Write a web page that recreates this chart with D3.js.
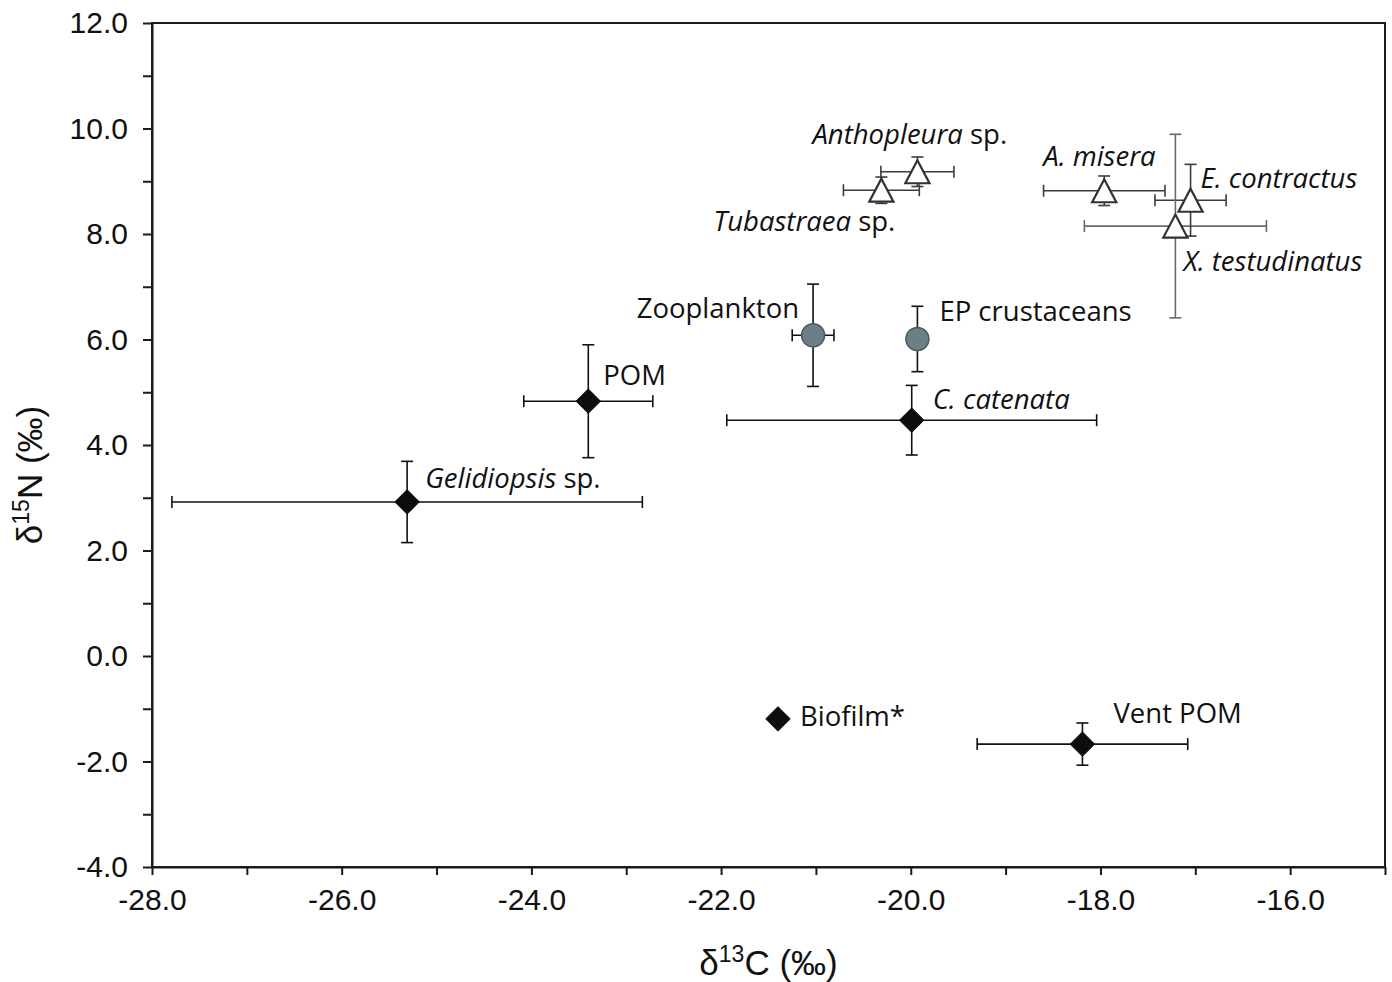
<!DOCTYPE html>
<html>
<head>
<meta charset="utf-8">
<script src="https://cdn.jsdelivr.net/npm/d3@7"></script>
<style>
  body { margin: 0; background: #fff; }
  svg { display: block; }
</style>
</head>
<body>
<svg id="chart" width="1392" height="982"></svg>
<script>
// isotope values (mean +/- sd)
const taxa = ["Gelidiopsis sp.", "POM", "Zooplankton", "EP crustaceans", "C. catenata", "Biofilm*", "Vent POM",
  "Tubastraea sp.", "Anthopleura sp.", "A. misera", "E. contractus", "X. testudinatus"];
const italicPart = ["Gelidiopsis", "", "", "", "C. catenata", "", "",
  "Tubastraea", "Anthopleura", "A. misera", "E. contractus", "X. testudinatus"];
const plainPart = [" sp.", "POM", "Zooplankton", "EP crustaceans", "", "Biofilm*", "Vent POM",
  " sp.", " sp.", "", "", ""];
const groups = ["source", "source", "plankton", "plankton", "source", "source", "source",
  "consumer", "consumer", "consumer", "consumer", "consumer"];
const d13C = [-25.31, -23.40, -21.03, -19.93, -19.99, -21.40, -18.19, -20.31, -19.93, -17.96, -17.05, -17.21];
const d15N = [2.92, 4.83, 6.08, 6.01, 4.47, -1.19, -1.67, 8.83, 9.18, 8.82, 8.64, 8.15];
const sdC = [2.48, 0.68, 0.22, 0, 1.95, 0, 1.11, 0.40, 0.385, 0.64, 0.375, 0.96];
const sdN = [0.77, 1.07, 0.97, 0.62, 0.66, 0, 0.40, 0.25, 0.28, 0.28, 0.68, 1.74];

const xTicks = d3.range(-28, -14, 1);
const yTicks = d3.range(-4, 13, 1);

// label placement, pixels from the point
const labelPos = {
  "Gelidiopsis sp.": [18, -24, "start"],
  "POM": [15, -26, "start"],
  "Zooplankton": [-14, -27, "end"],
  "EP crustaceans": [22, -28, "start"],
  "C. catenata": [21, -21, "start"],
  "Biofilm*": [22, -2, "start"],
  "Vent POM": [31, -31, "start"],
  "Tubastraea sp.": [14, 31, "end"],
  "Anthopleura sp.": [-105, -37, "start"],
  "A. misera": [-61, -34, "start"],
  "E. contractus": [10, -22, "start"],
  "X. testudinatus": [8, 35, "start"]
};

const width = 1392, height = 982;
const margin = { top: 23, right: 7, bottom: 115, left: 152 };
const svg = d3.select("#chart");

const x = d3.scaleLinear([-28, -15], [margin.left, width - margin.right]);
const y = d3.scaleLinear([-4, 12], [height - margin.bottom, margin.top]);

const data = taxa.map((t, i) => ({ t, i, x: d13C[i], y: d15N[i], sx: sdC[i], sy: sdN[i], g: groups[i] }));

// frame
svg.append("rect")
  .attr("x", x(-28)).attr("y", y(12))
  .attr("width", x(-15) - x(-28)).attr("height", y(-4) - y(12))
  .attr("fill", "none").attr("stroke", "#1a1a1a").attr("stroke-width", 2);

const fmt = d => d % 2 === 0 ? d3.format(".1f")(d).replace("−", "-") : "";

svg.append("g")
  .attr("transform", `translate(0,${y(-4)})`)
  .call(d3.axisBottom(x).tickValues(xTicks).tickSize(8).tickSizeOuter(0).tickFormat(fmt))
  .call(g => g.select(".domain").attr("stroke-width", 2).attr("stroke", "#1a1a1a"))
  .call(g => g.selectAll(".tick line").attr("stroke-width", 2).attr("stroke", "#1a1a1a"))
  .call(g => g.selectAll(".tick text")
    .attr("font-family", "Liberation Sans, Arial, sans-serif")
    .attr("font-size", 30).attr("fill", "#111").attr("dy", "1.05em"));

svg.append("g")
  .attr("transform", `translate(${x(-28)},0)`)
  .call(d3.axisLeft(y).tickValues(yTicks).tickSize(9).tickSizeOuter(0).tickFormat(fmt))
  .call(g => g.select(".domain").attr("stroke-width", 2).attr("stroke", "#1a1a1a"))
  .call(g => g.selectAll(".tick line").attr("stroke-width", 2).attr("stroke", "#1a1a1a"))
  .call(g => g.selectAll(".tick text")
    .attr("font-family", "Liberation Sans, Arial, sans-serif")
    .attr("font-size", 30).attr("fill", "#111").attr("x", -24));

// axis titles
const xt = svg.append("text")
  .attr("x", (x(-28) + x(-15)) / 2).attr("y", 975)
  .attr("text-anchor", "middle")
  .attr("font-family", "Liberation Sans, Arial, sans-serif")
  .attr("font-size", 35).attr("fill", "#111");
xt.append("tspan").text("δ");
xt.append("tspan").attr("font-size", 23).attr("dy", -13).text("13");
xt.append("tspan").attr("dy", 13).text("C (‰)");

const yt = svg.append("text")
  .attr("transform", `translate(42,${(y(-4) + y(12)) / 2 + 30}) rotate(-90)`)
  .attr("text-anchor", "middle")
  .attr("font-family", "Liberation Sans, Arial, sans-serif")
  .attr("font-size", 35).attr("fill", "#111");
yt.append("tspan").text("δ");
yt.append("tspan").attr("font-size", 23).attr("dy", -13).text("15");
yt.append("tspan").attr("dy", 13).text("N (‰)");

// error bars
const barColor = d => d.g === "consumer" ? (d.t === "X. testudinatus" ? "#6a6a6a" : "#3c3c3c") : "#111";
const cap = 6;
const bars = svg.append("g").attr("fill", "none").attr("stroke-width", 1.6);
data.filter(d => d.sx > 0).forEach(d => {
  const g = bars.append("g").attr("stroke", barColor(d));
  const x0 = x(d.x - d.sx), x1 = x(d.x + d.sx), yy = y(d.y);
  g.append("line").attr("x1", x0).attr("x2", x1).attr("y1", yy).attr("y2", yy);
  g.append("line").attr("x1", x0).attr("x2", x0).attr("y1", yy - cap).attr("y2", yy + cap);
  g.append("line").attr("x1", x1).attr("x2", x1).attr("y1", yy - cap).attr("y2", yy + cap);
});
data.filter(d => d.sy > 0).forEach(d => {
  const g = bars.append("g").attr("stroke", barColor(d));
  const y0 = y(d.y - d.sy), y1 = y(d.y + d.sy), xx = x(d.x);
  g.append("line").attr("x1", xx).attr("x2", xx).attr("y1", y0).attr("y2", y1);
  g.append("line").attr("x1", xx - cap).attr("x2", xx + cap).attr("y1", y0).attr("y2", y0);
  g.append("line").attr("x1", xx - cap).attr("x2", xx + cap).attr("y1", y1).attr("y2", y1);
});

// triangle centred on its bounding box
const boxTriangle = {
  draw(ctx, size) {
    const h = Math.sqrt(size);
    const w = h * 1.05;
    ctx.moveTo(0, -h / 2);
    ctx.lineTo(w / 2, h / 2);
    ctx.lineTo(-w / 2, h / 2);
    ctx.closePath();
  }
};

const marks = svg.append("g");
marks.selectAll("path.tri")
  .data(data.filter(d => d.g === "consumer"))
  .join("path")
  .attr("class", "tri")
  .attr("transform", d => `translate(${x(d.x)},${y(d.y)})`)
  .attr("d", d3.symbol(boxTriangle, 23 * 23))
  .attr("fill", "#fff").attr("stroke", "#2f3336").attr("stroke-width", 2.2)
  .attr("stroke-linejoin", "miter");

marks.selectAll("circle")
  .data(data.filter(d => d.g === "plankton"))
  .join("circle")
  .attr("cx", d => x(d.x)).attr("cy", d => y(d.y)).attr("r", 11.5)
  .attr("fill", "#6c7f87").attr("stroke", "#4a585e").attr("stroke-width", 1.5);

marks.selectAll("path.dia")
  .data(data.filter(d => d.g === "source"))
  .join("path")
  .attr("class", "dia")
  .attr("transform", d => `translate(${x(d.x)},${y(d.y)}) rotate(45)`)
  .attr("d", d3.symbol(d3.symbolSquare, 17 * 17))
  .attr("fill", "#0d0d0d").attr("stroke", "#0d0d0d").attr("stroke-width", 1)
  .attr("stroke-linejoin", "round");

// labels
const labels = svg.append("g")
  .attr("font-family", "Open Sans, sans-serif")
  .attr("font-size", 27.5).attr("fill", "#111");
data.forEach(d => {
  const [dx, dy, anchor] = labelPos[d.t];
  const tx = labels.append("text")
    .attr("x", x(d.x) + dx).attr("y", y(d.y) + dy)
    .attr("dy", "0.35em")
    .attr("text-anchor", anchor);
  if (italicPart[d.i]) tx.append("tspan").attr("font-style", "italic").text(italicPart[d.i]);
  if (plainPart[d.i]) tx.append("tspan").text(plainPart[d.i]);
});
</script>
</body>
</html>
